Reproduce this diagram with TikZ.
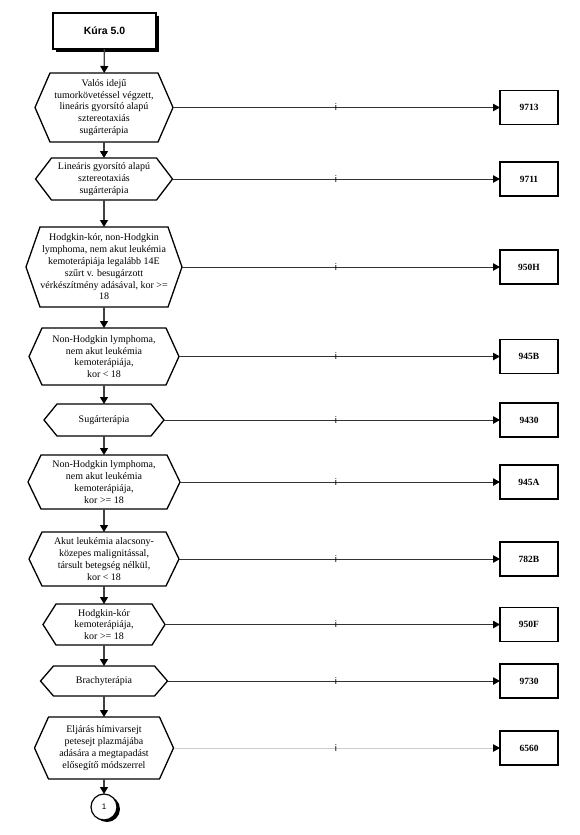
\documentclass[tikz,border=0pt]{standalone}
\usepackage{fontspec}
\setmainfont{Liberation Serif}
\newfontfamily\sansf{Liberation Sans}
\usetikzlibrary{arrows.meta,shadows}
\newcommand\hexa[6]{%
  \node[hexn, minimum width=#3pt, minimum height=#4pt] (#1) at (104,#2) {#6};
  \draw[hexline] (#1.west) -- ([xshift=#5pt]#1.north west) -- ([xshift=-#5pt]#1.north east) -- (#1.east) -- ([xshift=-#5pt]#1.south east) -- ([xshift=#5pt]#1.south west) -- cycle;}
\begin{document}
\begin{tikzpicture}[x=1pt,y=-1pt,
  hexn/.style={inner sep=0pt, outer sep=0pt, align=center, font=\fontsize{10}{11.8}\selectfont},
  hexline/.style={draw=black, line width=1.3pt, line join=miter},
  codebox/.style={draw, line width=1.3pt, minimum width=58pt, minimum height=34pt, inner sep=0pt, outer sep=0pt, font=\bfseries\fontsize{9.5}{11}\selectfont},
  vline/.style={draw=black!75, line width=1.3pt, -{Triangle[length=7pt,width=8pt,color=black]}},
  hline/.style={draw=black!80, line width=1pt, -{Triangle[length=7pt,width=7.5pt,color=black]}},
  hlight/.style={draw=black!20, line width=1pt, -{Triangle[length=7pt,width=7.5pt,color=black]}},
  ilab/.style={inner sep=0pt, text=black, font=\sansf\fontsize{9.5}{9.5}\selectfont},
  startbox/.style={draw, line width=1.3pt, fill=white, minimum width=103pt, minimum height=36pt, inner sep=0pt, outer sep=0pt, font=\sansf\bfseries\fontsize{10.5}{12}\selectfont, drop shadow={shadow xshift=3pt, shadow yshift=-3pt, fill=black, opacity=1}},
  endcirc/.style={circle, draw, line width=1.2pt, fill=white, minimum size=26pt, inner sep=0pt, outer sep=0pt, font=\sansf\fontsize{8}{9}\selectfont, drop shadow={shadow xshift=3pt, shadow yshift=-2pt, fill=black, opacity=1}}
]
\useasboundingbox (0,0) rectangle (580,835);
\coordinate (ix) at (336,0);

\node[startbox] (S) at (104.5,31) {Kúra 5.0};

\hexa{H1}{107.5}{138}{69}{15}{Valós idejű\\tumorkövetéssel végzett,\\lineáris gyorsító alapú\\sztereotaxiás\\sugárterápia}
\hexa{H2}{179}{137}{42}{16}{Lineáris gyorsító alapú\\sztereotaxiás\\sugárterápia}
\hexa{H3}{267}{156}{80}{14}{Hodgkin-kór, non-Hodgkin\\lymphoma, nem akut leukémia\\kemoterápiája legalább 14E\\szűrt v. besugárzott\\vérkészítmény adásával, kor >=\\18}
\hexa{H4}{356.5}{150}{57}{13}{Non-Hodgkin lymphoma,\\nem akut leukémia\\kemoterápiája,\\kor < 18}
\hexa{H5}{420}{120}{32}{13}{Sugárterápia}
\hexa{H6}{482}{152}{54}{13}{Non-Hodgkin lymphoma,\\nem akut leukémia\\kemoterápiája,\\kor >= 18}
\hexa{H7}{559}{150}{54}{13}{Akut leukémia alacsony-\\közepes malignitással,\\társult betegség nélkül,\\kor < 18}
\hexa{H8}{624.5}{122}{41}{13}{Hodgkin-kór\\kemoterápiája,\\kor >= 18}
\hexa{H9}{681}{127}{30}{13}{Brachyterápia}
\hexa{H10}{748}{139}{62}{14}{Eljárás hímivarsejt\\petesejt plazmájába\\adására a megtapadást\\elősegítő módszerrel}

\node[endcirc] (E) at (104,807) {1};

\draw[vline] (S) -- (H1);
\draw[vline] (H1) -- (H2);
\draw[vline] (H2) -- (H3);
\draw[vline] (H3) -- (H4);
\draw[vline] (H4) -- (H5);
\draw[vline] (H5) -- (H6);
\draw[vline] (H6) -- (H7);
\draw[vline] (H7) -- (H8);
\draw[vline] (H8) -- (H9);
\draw[vline] (H9) -- (H10);
\draw[vline] (H10) -- (E);

\node[codebox] (C1) at (529,107.5) {9713};
\node[codebox] (C2) at (529,179) {9711};
\node[codebox] (C3) at (529,267) {950H};
\node[codebox] (C4) at (529,356.5) {945B};
\node[codebox] (C5) at (529,420) {9430};
\node[codebox] (C6) at (529,482) {945A};
\node[codebox] (C7) at (529,559) {782B};
\node[codebox] (C8) at (529,624.5) {950F};
\node[codebox] (C9) at (529,681) {9730};
\node[codebox] (C10) at (529,748) {6560};

\foreach \h/\c in {H1/C1,H2/C2,H3/C3,H4/C4,H5/C5,H6/C6,H7/C7,H8/C8,H9/C9}{
  \draw[hline] (\h.east) -- (\c.west);
  \node[ilab] at (ix |- \c.west) {i};
}
\draw[hlight] (H10.east) -- (C10.west);
\node[ilab] at (ix |- C10.west) {i};
\end{tikzpicture}
\end{document}
